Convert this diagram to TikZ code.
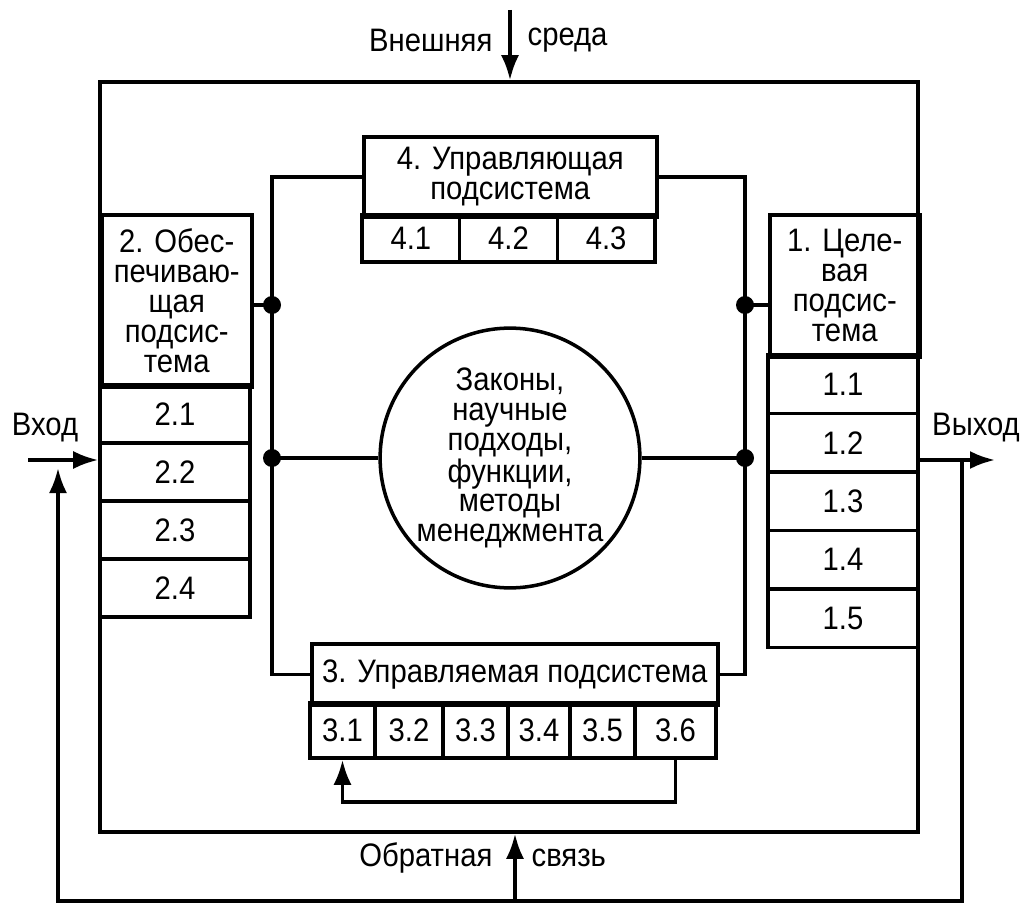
\documentclass[tikz,border=0pt]{standalone}
\usepackage{fontspec}
\setmainfont{Liberation Sans}[FakeStretch=0.9]
\usetikzlibrary{arrows.meta,positioning}

\begin{document}
\begin{tikzpicture}[x=0.2mm, y=-0.2mm, line width=2pt,
    every node/.style={font=\fontsize{18.5}{17}\selectfont},
    box/.style={draw, line width=2pt, inner sep=0pt, align=center},
    dot/.style={circle, fill, inner sep=0pt, minimum size=3.6mm},
    arr/.style={-{Latex[length=5mm,width=3.6mm]}}]
    \useasboundingbox (0,0) rectangle (1022,905);

    \node[box, minimum width=163.6mm, minimum height=150mm] (sys) at (509,457) {};

    \node[box, minimum width=58.6mm, minimum height=16mm, anchor=north west] (head4) at (362,135) {4. Управляющая\\подсистема};
    \foreach \i in {1,2,3}
      \node[box, minimum width=19.53mm, minimum height=9.4mm] (c4\i) at ({362+97.67*(\i-0.5)},238.5) {4.\i};

    \node[box, minimum width=30mm, minimum height=34.4mm, anchor=north west] (head2) at (100,213) {2. Обес-\\печиваю-\\щая\\подсис-\\тема};
    \foreach \i in {1,...,4}
      \node[box, minimum width=30mm, minimum height=11.6mm] (c2\i) at (175,{385+58*(\i-0.5)}) {2.\i};

    \node[box, minimum width=30mm, minimum height=28.4mm, anchor=north west] (head1) at (768,213) {1. Целе-\\вая\\подсис-\\тема};
    \foreach \i in {1,...,5}
      \node[box, minimum width=30mm, minimum height=11.7mm] (c1\i) at (843,{355+58.5*(\i-0.5)}) {1.\i};

    \node[box, minimum width=81.2mm, minimum height=12.2mm, anchor=north west] (head3) at (310,642) {3. Управляемая подсистема};
    \foreach \i/\xa/\xb in {1/310/375,2/375/443,3/443/508,4/508/570,5/570/635,6/635/716}
      \node[box, minimum width={(\xb-\xa)*0.2mm}, minimum height=11mm] (c3\i) at ({(\xa+\xb)/2},730.5) {3.\i};

    \node[box, circle, minimum size=48.8mm] (laws) at (510,458) {Законы,\\научные\\подходы,\\функции,\\методы\\менеджмента};

    \node[dot] (dotL1) at (272,305) {};
    \node[dot] (dotL2) at (272,458) {};
    \node[dot] (dotR1) at (745,305) {};
    \node[dot] (dotR2) at (745,458) {};

    \draw (head4.west) -| (dotL2.center) |- (head3.west);
    \draw (head4.east) -| (dotR2.center) |- (head3.east);
    \draw (dotL1 -| head2.east) -- (dotL1.center);
    \draw (dotR1 -| head1.west) -- (dotR1.center);
    \draw (dotL2.center) -- (laws.west);
    \draw (laws.east) -- (dotR2.center);

    \draw[arr] (c36.south) -- ++(0,42) -| (c31.south);

    \coordinate (envTop) at (510,10);
    \draw[arr] (envTop) -- (envTop |- sys.north);
    \node[anchor=east] (envA) at (500,40) {Внешняя};
    \node[anchor=west] (envB) at (520,40) {среда};

    \coordinate (inStart) at (28,460);
    \draw[arr] (inStart) -- (inStart -| sys.west);
    \node (inLbl) at (45,428) {Вход};

    \coordinate (outEnd) at (995,460);
    \draw[arr] (outEnd -| sys.east) -- (outEnd);
    \node (outLbl) at (976,428) {Выход};

    \coordinate (fbR) at (962,460);
    \coordinate (fbBot) at (515,901);
    \coordinate (fbL) at (58,468);
    \draw[arr] (fbR) |- (fbBot) -| (fbL);
    \draw[arr] (fbBot) -- (fbBot |- sys.south);
    \node[anchor=east] (fbA) at (500,858) {Обратная};
    \node[anchor=west] (fbB) at (524,858) {связь};
\end{tikzpicture}
\end{document}
